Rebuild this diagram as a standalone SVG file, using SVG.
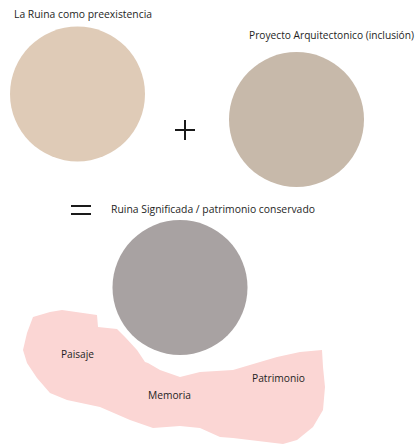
<svg xmlns="http://www.w3.org/2000/svg" width="417" height="444" viewBox="0 0 417 444">
<style>
text{font-family:"Open Sans","Liberation Sans",sans-serif;font-size:10px;fill:#1e1e1e}
.op{stroke:#1a1a1a;stroke-width:2;fill:none}
</style>
<rect width="417" height="444" fill="#ffffff"/>
<g id="ruina">
<text x="14" y="18" textLength="138" lengthAdjust="spacingAndGlyphs">La Ruina como preexistencia</text>
<circle cx="77.5" cy="94" r="67.5" fill="#dfcbb7"/>
</g>
<g id="proyecto">
<text x="249" y="39" textLength="165" lengthAdjust="spacingAndGlyphs">Proyecto Arquitectonico (inclusión)</text>
<circle cx="296.5" cy="119.5" r="67.5" fill="#c7b9aa"/>
</g>
<g id="operators">
<path class="op" d="M175 130H195M185 120V140"/>
<path class="op" d="M71 206H91M71 214H91"/>
</g>
<g id="pink">
<path fill="#fbd6d4" d="M33 317 L50 312 L62 310 L97 315 L98 327 L117 329 L125 337 L137 350 L145 362 L148 363 L160 370 L180 377 L200 372 L233 370 L260 362 L277 357 L300 352 L322 350 L323 367 L325 387 L323 410 L313 427 L297 440 L283 444 L233 438 L220 437 L200 428 L180 426 L153 428 L130 420 L100 407 L67 400 L50 393 L37 378 L27 363 L23 350 L27 333 Z"/>
<text x="61" y="358" textLength="33" lengthAdjust="spacingAndGlyphs">Paisaje</text>
<text x="148" y="399" textLength="43" lengthAdjust="spacingAndGlyphs">Memoria</text>
<text x="252" y="382" textLength="53" lengthAdjust="spacingAndGlyphs">Patrimonio</text>
</g>
<g id="resultado">
<text x="111" y="213" textLength="204" lengthAdjust="spacingAndGlyphs">Ruina Significada / patrimonio conservado</text>
<circle cx="180" cy="287.5" r="67.5" fill="#a8a2a2"/>
</g>
<g id="connectors"></g>
</svg>
